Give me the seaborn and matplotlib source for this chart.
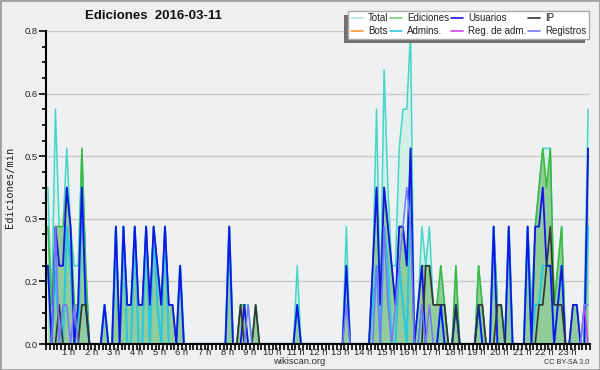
import numpy as np
import pandas as pd
import matplotlib
matplotlib.use("Agg")
import matplotlib.pyplot as plt
import seaborn as sns
from matplotlib.patches import Rectangle
from matplotlib.lines import Line2D
from matplotlib.ticker import MultipleLocator, FixedLocator, FuncFormatter

# ================= datos: ediciones por intervalo de 10 min (144 intervalos) =================
# cada fila = 2 horas (12 intervalos)
total = [4, 1, 6, 3, 3, 5, 3, 2, 2, 5, 2, 0,
         0, 0, 0, 1, 0, 0, 3, 0, 3, 1, 1, 3,
         1, 1, 3, 1, 3, 2, 1, 3, 1, 1, 0, 2,
         0, 0, 0, 0, 0, 0, 0, 0, 0, 0, 0, 0,
         3, 0, 0, 1, 1, 1, 0, 1, 0, 0, 0, 0,
         0, 0, 0, 0, 0, 0, 2, 0, 0, 0, 0, 0,
         0, 0, 0, 0, 0, 0, 0, 3, 0, 0, 0, 0,
         0, 0, 2, 6, 1, 7, 4, 2, 2, 5, 6, 6,
         8, 0, 1, 3, 2, 3, 1, 1, 2, 1, 0, 0,
         2, 0, 0, 0, 0, 0, 2, 1, 0, 0, 3, 1,
         1, 0, 3, 0, 0, 0, 0, 3, 1, 3, 4, 5,
         5, 5, 1, 2, 3, 0, 0, 1, 1, 0, 1, 6]

ediciones = [3, 1, 3, 3, 3, 4, 3, 1, 1, 5, 2, 0,
             0, 0, 0, 1, 0, 0, 3, 0, 3, 1, 1, 3,
             1, 1, 3, 1, 3, 2, 1, 3, 1, 1, 0, 2,
             0, 0, 0, 0, 0, 0, 0, 0, 0, 0, 0, 0,
             3, 0, 0, 1, 1, 0, 0, 1, 0, 0, 0, 0,
             0, 0, 0, 0, 0, 0, 1, 0, 0, 0, 0, 0,
             0, 0, 0, 0, 0, 0, 0, 2, 0, 0, 0, 0,
             0, 0, 2, 4, 1, 4, 3, 2, 1, 3, 3, 2,
             5, 0, 1, 2, 2, 2, 1, 1, 2, 1, 0, 0,
             2, 0, 0, 0, 0, 0, 2, 1, 0, 0, 3, 1,
             1, 0, 3, 0, 0, 0, 0, 3, 0, 3, 4, 5,
             4, 5, 1, 2, 3, 0, 0, 1, 1, 0, 0, 5]

usuarios = [2, 0, 3, 2, 2, 4, 3, 0, 1, 4, 1, 0,
            0, 0, 0, 1, 0, 0, 3, 0, 3, 1, 1, 3,
            1, 1, 3, 1, 3, 2, 1, 3, 1, 1, 0, 2,
            0, 0, 0, 0, 0, 0, 0, 0, 0, 0, 0, 0,
            3, 0, 0, 0, 1, 0, 0, 0, 0, 0, 0, 0,
            0, 0, 0, 0, 0, 0, 1, 0, 0, 0, 0, 0,
            0, 0, 0, 0, 0, 0, 0, 2, 0, 0, 0, 0,
            0, 0, 2, 4, 1, 4, 3, 2, 1, 3, 3, 2,
            5, 0, 1, 2, 0, 0, 0, 0, 1, 0, 0, 0,
            1, 0, 0, 0, 0, 0, 1, 0, 0, 0, 3, 0,
            0, 0, 3, 0, 0, 0, 0, 3, 0, 3, 3, 4,
            2, 2, 0, 1, 2, 0, 0, 1, 1, 0, 0, 5]

ip = [0, 0, 0, 1, 0, 0, 0, 0, 0, 1, 1, 0,
      0, 0, 0, 0, 0, 0, 0, 0, 0, 0, 0, 0,
      0, 0, 0, 0, 0, 0, 0, 0, 0, 0, 0, 0,
      0, 0, 0, 0, 0, 0, 0, 0, 0, 0, 0, 0,
      0, 0, 0, 1, 0, 0, 0, 1, 0, 0, 0, 0,
      0, 0, 0, 0, 0, 0, 0, 0, 0, 0, 0, 0,
      0, 0, 0, 0, 0, 0, 0, 0, 0, 0, 0, 0,
      0, 0, 0, 0, 0, 0, 0, 0, 0, 0, 0, 0,
      0, 0, 0, 0, 2, 2, 1, 1, 1, 1, 0, 0,
      1, 0, 0, 0, 0, 0, 1, 1, 0, 0, 0, 1,
      1, 0, 0, 0, 0, 0, 0, 0, 0, 0, 1, 1,
      2, 3, 1, 1, 1, 0, 0, 0, 0, 0, 0, 0]

bots = [0] * 144

admins = [2, 0, 2, 0, 0, 3, 2, 0, 0, 4, 1, 0,
          0, 0, 0, 1, 0, 0, 3, 0, 3, 0, 0, 3,
          0, 0, 3, 0, 3, 1, 0, 3, 0, 0, 0, 2,
          0, 0, 0, 0, 0, 0, 0, 0, 0, 0, 0, 0,
          3, 0, 0, 0, 0, 0, 0, 0, 0, 0, 0, 0,
          0, 0, 0, 0, 0, 0, 1, 0, 0, 0, 0, 0,
          0, 0, 0, 0, 0, 0, 0, 2, 0, 0, 0, 0,
          0, 0, 1, 2, 0, 3, 2, 0, 0, 2, 1, 0,
          4, 0, 0, 1, 0, 0, 0, 0, 1, 0, 0, 0,
          1, 0, 0, 0, 0, 0, 1, 0, 0, 0, 3, 0,
          0, 0, 3, 0, 0, 0, 0, 3, 0, 1, 1, 2,
          2, 2, 0, 1, 2, 0, 0, 0, 0, 0, 0, 3]

reg_adm = [0] * 142 + [1, 0]

registros = [0, 0, 3, 0, 1, 1, 0, 1, 0, 0, 0, 0,
             0, 0, 0, 0, 0, 0, 0, 0, 0, 0, 0, 0,
             0, 0, 0, 0, 0, 0, 0, 0, 0, 0, 0, 0,
             0, 0, 0, 0, 0, 0, 0, 0, 0, 0, 0, 0,
             0, 0, 0, 0, 0, 1, 0, 0, 0, 0, 0, 0,
             0, 0, 0, 0, 0, 0, 0, 0, 0, 0, 0, 0,
             0, 0, 0, 0, 0, 0, 0, 1, 0, 0, 0, 0,
             0, 0, 0, 2, 0, 3, 1, 0, 1, 2, 3, 4,
             3, 0, 0, 1, 0, 1, 0, 0, 0, 0, 0, 0,
             0, 0, 0, 0, 0, 0, 0, 0, 0, 0, 0, 0,
             0, 0, 0, 0, 0, 0, 0, 0, 0, 0, 0, 0,
             0, 0, 0, 0, 0, 0, 0, 0, 0, 0, 1, 1]

hour_ticks = list(range(1, 24))
hour_labels = [f"{h} h" for h in hour_ticks]
y_ticks = [0.0, 0.16, 0.32, 0.48, 0.64, 0.8]

# ================= estilo =================
sns.set_style("whitegrid")
plt.rcParams["font.family"] = ["Liberation Sans", "DejaVu Sans"]

series = [
    # etiqueta, datos, color, grosor, zorder
    ("Total", total, "#45d6c8", 1.1, 2.0),
    ("Ediciones", ediciones, "#3cb83c", 1.1, 2.1),
    ("Admins.", admins, "#2ec8dc", 1.6, 2.2),
    ("Usuarios", usuarios, "#1414e6", 1.3, 2.3),
    ("IP", ip, "#333333", 1.2, 2.4),
    ("Bots", bots, "#ff9933", 1.0, 2.5),
    ("Reg. de adm.", reg_adm, "#cc44ee", 1.1, 2.6),
    ("Registros", registros, "#7777ff", 1.1, 2.7),
]
legend_colors = {"Total": "#a8e6e0", "Ediciones": "#7ccf7c"}

t = (np.arange(144) + 0.5) / 6.0  # centro de cada intervalo, en horas
df = pd.DataFrame({"t": t})
for name, vals, *_ in series:
    df[name] = np.array(vals) / 10.0  # ediciones / min

fig = plt.figure(figsize=(6, 3.7), dpi=100, facecolor="#efefef")
ax = fig.add_axes([46 / 600, 26 / 370, 544 / 600, 313 / 370])
ax.set_facecolor("#eef0f2")

ax.fill_between(df["t"], df["Total"], color="#d3f0e8", lw=0, zorder=1.0)
ax.fill_between(df["t"], df["Ediciones"], color="#93cc9b", lw=0, zorder=1.1)

for name, vals, color, lw, z in series:
    sns.lineplot(data=df, x="t", y=name, ax=ax, color=color, lw=lw,
                 zorder=z, estimator=None, legend=False)

# ================= ejes =================
ax.set_xlim(0, 24)
ax.set_ylim(0, 0.8)
ax.set_xticks(hour_ticks)
ax.set_xticklabels(hour_labels)
ax.xaxis.set_minor_locator(MultipleLocator(1 / 6))
ax.yaxis.set_major_locator(FixedLocator(y_ticks))
ax.yaxis.set_major_formatter(FuncFormatter(lambda v, p: f"{v:.1f}"))
ax.yaxis.set_minor_locator(MultipleLocator(0.04))

ax.grid(False)
ax.yaxis.grid(True, which="major", color="#c9c9c9", lw=1)
ax.set_axisbelow(True)

for s in ["top", "right"]:
    ax.spines[s].set_visible(False)
for s in ["left", "bottom"]:
    ax.spines[s].set_color("black")
    ax.spines[s].set_linewidth(1.5)
    ax.spines[s].set_zorder(3)

ax.tick_params(axis="x", which="both", bottom=True, direction="out",
               length=4, width=1.2, color="black", labelsize=6.8,
               labelcolor="#222222", pad=-1.2)
ax.tick_params(axis="y", which="major", left=True, direction="out",
               length=5, width=1.2, color="black", labelsize=6.8,
               labelcolor="#222222", pad=1)
ax.tick_params(axis="y", which="minor", left=True, direction="out",
               length=3, width=1.2, color="black")

ax.set_xlabel("")
ax.set_ylabel("Ediciones/min", fontsize=7.5, family="DejaVu Sans Mono",
              color="#222222", labelpad=7)

# ================= textos =================
fig.text(153 / 600, 1 - 16 / 370, "Ediciones  2016-03-11", ha="center",
         va="center", fontsize=9.5, weight="bold", color="#111111")
fig.text(299 / 600, 1 - 361 / 370, "wikiscan.org", ha="center", va="center",
         fontsize=6.8, color="#333333")
fig.text(589 / 600, 1 - 362 / 370, "CC BY-SA 3.0", ha="right", va="center",
         fontsize=5.2, color="#333333")

# ================= leyenda =================
handles = {}
for name, vals, color, lw, z in series:
    handles[name] = Line2D([], [], color=legend_colors.get(name, color), lw=1.2)
order = ["Total", "Bots", "Ediciones", "Admins.", "Usuarios", "Reg. de adm.",
         "IP", "Registros"]
leg = fig.legend([handles[k] for k in order], order, ncol=4,
                 loc="upper right", bbox_to_anchor=(589 / 600, 1 - 11 / 370),
                 fontsize=7, frameon=True, fancybox=False, shadow=False,
                 framealpha=1, handlelength=1.25, handletextpad=0.5,
                 columnspacing=0.2, labelspacing=0.28, borderpad=0.25,
                 borderaxespad=0)
leg.get_frame().set_facecolor("white")
leg.get_frame().set_edgecolor("#aaaaaa")
leg.get_frame().set_linewidth(1)
for txt in leg.get_texts():
    txt.set_color("#222222")

fig.canvas.draw()
bb = leg.get_window_extent()
fig.patches.append(Rectangle((bb.x0 - 4, bb.y0 - 4), bb.width, bb.height,
                             transform=None, facecolor="#707070",
                             edgecolor="none", zorder=1))
fig.patches.append(Rectangle((0, 0), 1, 1, transform=fig.transFigure,
                             fill=False, edgecolor="#a0a0a0", lw=2, zorder=0))

fig.savefig("out.png", dpi=100, facecolor=fig.get_facecolor())
